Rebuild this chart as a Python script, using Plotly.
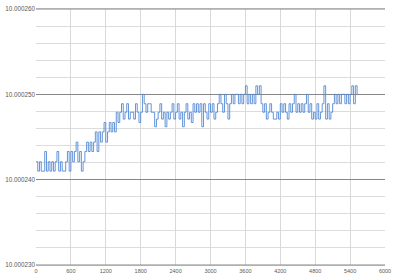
import plotly.graph_objects as go

# sample times (s)
times = list(range(0, 5521, 30))

# readings, in units of 1e-6 above 10.000000
seg_a = [242.1, 241.0, 242.1, 241.0, 241.0, 243.3, 241.0, 242.1, 241.0, 242.1,
         241.0, 242.1, 243.3, 241.0, 242.1, 241.0, 241.0, 242.1, 243.3, 241.0]
seg_b = [243.3, 242.1, 243.3, 244.4, 242.1, 243.3, 241.0, 242.1, 243.3]
seg_c = [244.4, 243.3, 244.4, 243.3, 244.4, 245.6, 243.3]
seg_d = [245.6, 244.4, 245.6, 246.7, 244.4, 245.6]
seg_e = [246.7, 245.6, 246.7, 245.6]
seg_f = [247.9, 246.7, 247.9, 248.9, 247.1]
seg_g = [247.9, 248.9, 247.1, 247.9, 247.9, 247.1, 248.9, 247.9, 246.7, 247.9]
seg_h = [250.0, 248.9, 247.9, 248.9, 248.9, 247.9, 247.9, 246.2, 247.1, 247.9,
         248.9, 247.1, 247.9, 246.2, 247.9, 247.1, 247.9, 248.9, 247.1]
seg_i = [247.9, 248.9, 247.1, 247.9, 246.2, 247.9, 248.9, 247.1, 247.9, 246.7,
         248.9, 247.9, 248.9, 247.9, 248.9, 246.2]
seg_j = [248.9, 247.9, 247.1, 248.9, 247.9, 248.9, 247.1, 247.9, 248.9]
seg_k = [250.0, 248.9, 247.9, 250.0, 248.9, 247.1, 248.9]
seg_l = [250.0, 248.9, 250.0, 250.0, 248.9, 250.0, 248.9, 250.0, 251.0, 248.9,
         250.0, 248.9, 250.0, 248.9, 251.0, 250.0, 251.0, 248.9]
seg_m = [247.9, 248.9, 247.1, 247.9, 248.9, 247.9, 247.1]
seg_n = [247.1, 247.9, 247.1, 248.9, 247.9, 248.9, 247.9, 247.1, 248.9, 247.9,
         248.9, 250.0, 247.9, 248.9, 247.9, 248.9, 247.9, 248.9, 250.0, 247.9,
         248.9, 247.1, 247.9, 247.1, 248.9]
seg_o = [247.1, 247.9, 248.9, 251.0, 247.1, 248.9, 247.1, 247.9, 248.9]
seg_p = [250.0, 248.9, 250.0, 248.9, 250.0, 250.0, 248.9, 250.0, 248.9, 250.0,
         251.0, 248.9, 251.0, 250.0]

micro = (seg_a + seg_b + seg_c + seg_d + seg_e + seg_f + seg_g + seg_h + seg_i
         + seg_j + seg_k + seg_l + seg_m + seg_n + seg_o + seg_p)
values = [10.0 + v * 1e-6 for v in micro]

x_ticks = [0, 600, 1200, 1800, 2400, 3000, 3600, 4200, 4800, 5400, 6000]
y_ticks = [10.000230, 10.000240, 10.000250, 10.000260]
y_labels = ["10.000230", "10.000240", "10.000250", "10.000260"]

fig = go.Figure()
fig.add_trace(go.Scatter(
    x=times, y=values, mode="lines", line_shape="hv",
    line=dict(color="#5189d6", width=0.9), showlegend=False,
))

fig.update_layout(
    width=400, height=280,
    margin=dict(l=34, r=15, t=5, b=15),
    paper_bgcolor="white", plot_bgcolor="white",
    font=dict(family="Liberation Sans", color="#595959"),
)
fig.update_xaxes(
    range=[0, 6000], tickvals=x_ticks, ticktext=[str(v) for v in x_ticks],
    tickfont=dict(size=5.5, color="#595959"),
    showgrid=True, gridcolor="#d9d9d9", gridwidth=1,
    showline=True, linecolor="#d9d9d9", linewidth=1, mirror=True,
    zeroline=False, ticks="", ticklen=0,
)
fig.update_yaxes(
    range=[10.000230, 10.000260], tickvals=y_ticks, ticktext=y_labels,
    tickfont=dict(size=6.3, color="#595959"),
    showgrid=True, gridcolor="#868686", gridwidth=1,
    showline=False, zeroline=False, ticks="", ticklen=0,
    minor=dict(tick0=10.000230, dtick=0.000002, showgrid=True,
               gridcolor="#dcdcdc", gridwidth=1),
)
# dark horizontal frame lines top and bottom
fig.add_shape(type="line", xref="paper", yref="paper", x0=0, x1=1, y0=0, y1=0,
              line=dict(color="#868686", width=1))
fig.add_shape(type="line", xref="paper", yref="paper", x0=0, x1=1, y0=1, y1=1,
              line=dict(color="#868686", width=1))

fig.write_html("out.html")
